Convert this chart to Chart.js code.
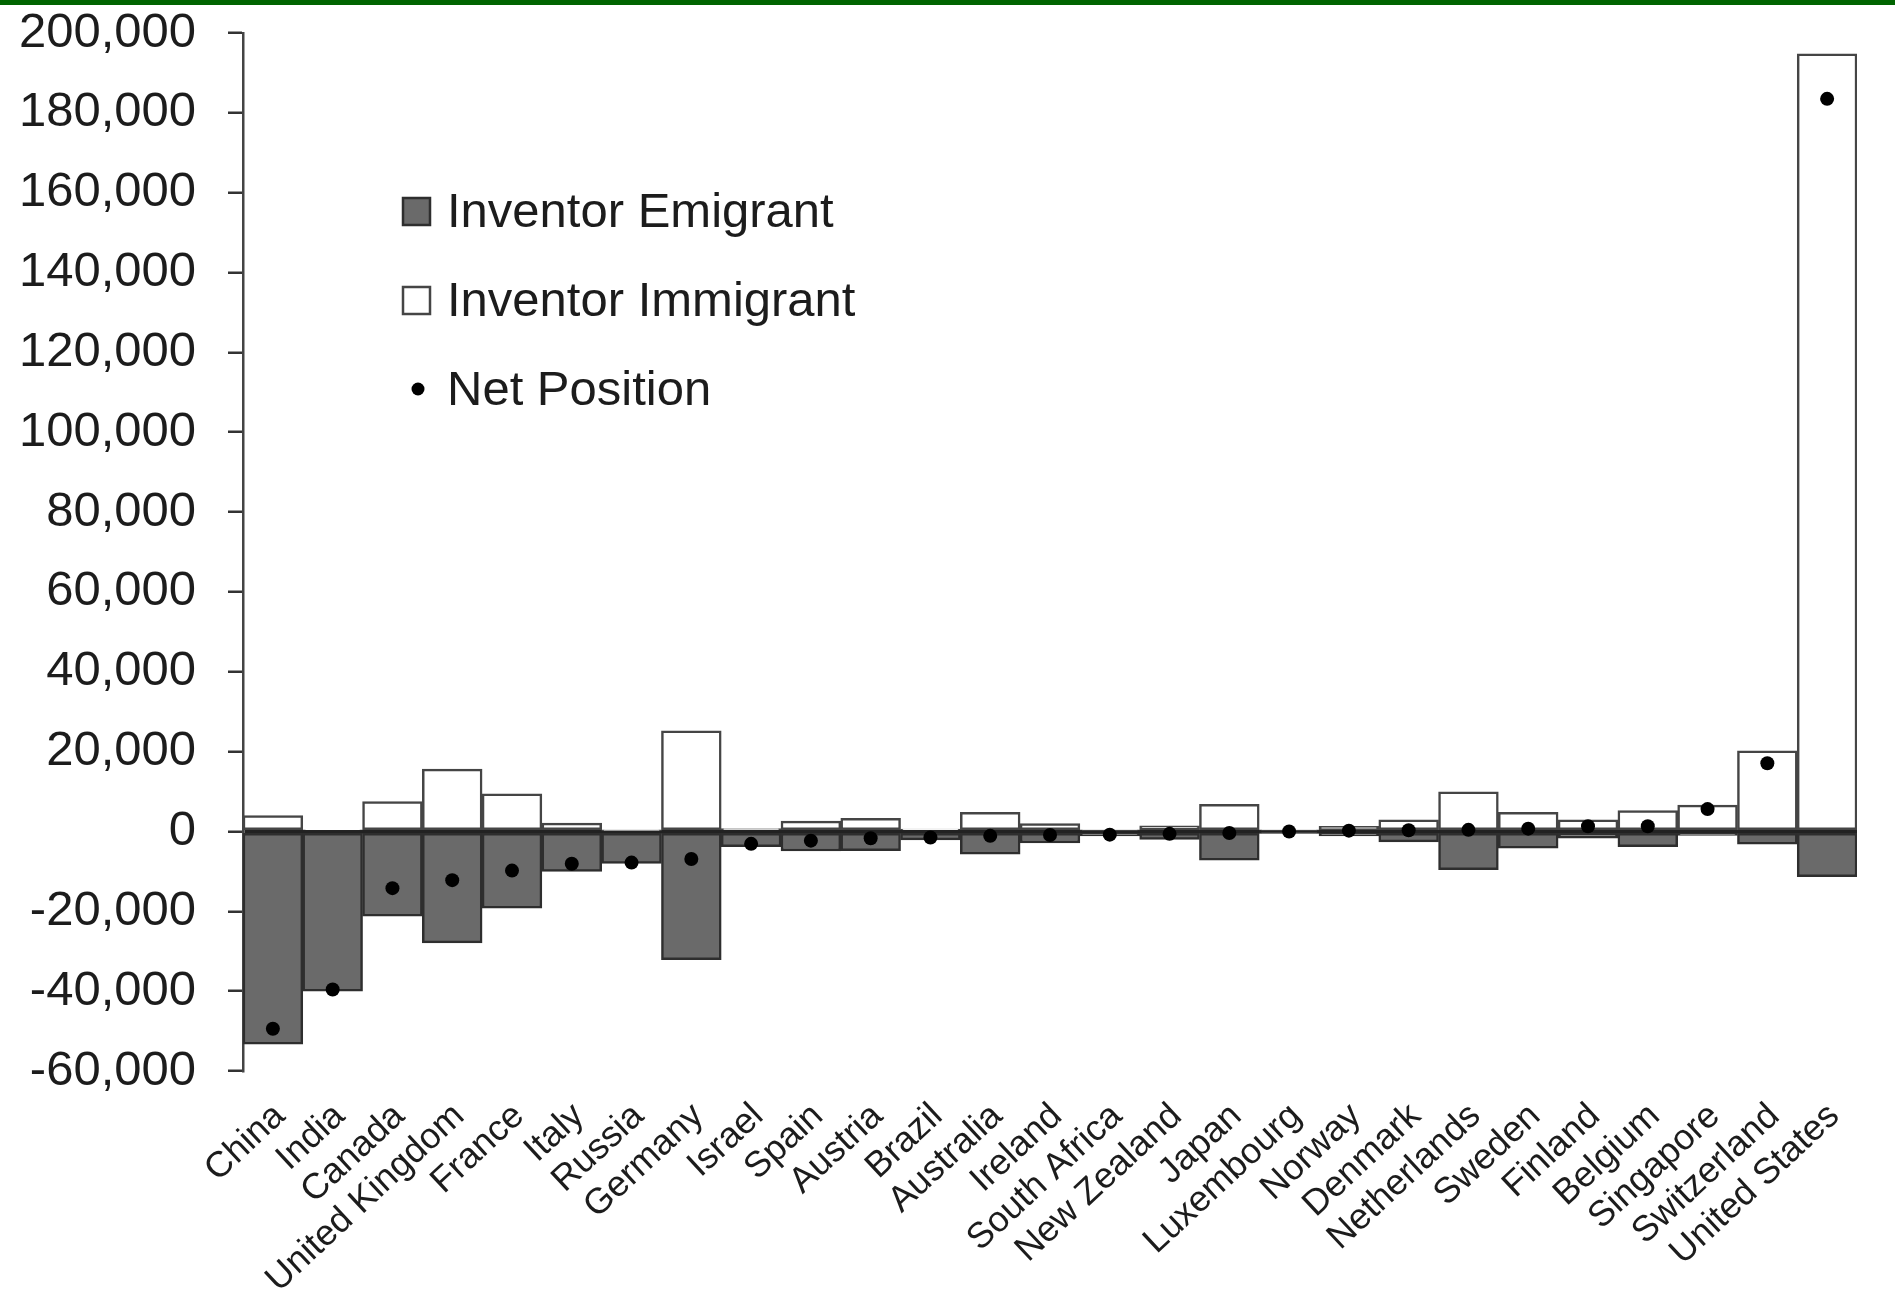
<!DOCTYPE html>
<html>
<head>
<meta charset="utf-8">
<script src="https://cdn.jsdelivr.net/npm/chart.js@4"></script>
<style>
  html, body { margin: 0; padding: 0; background: #fff; }
  #topBar { position: absolute; left: 0; top: 0; width: 1895px; height: 5px; background: #006400; }
  canvas { display: block; }
</style>
</head>
<body>
<div id="topBar"></div>
<canvas id="chart" width="1895" height="1289"></canvas>
<script>
const categories = [
  "China", "India", "Canada", "United Kingdom", "France", "Italy", "Russia",
  "Germany", "Israel", "Spain", "Austria", "Brazil", "Australia", "Ireland",
  "South Africa", "New Zealand", "Japan", "Luxembourg", "Norway", "Denmark",
  "Netherlands", "Sweden", "Finland", "Belgium", "Singapore", "Switzerland",
  "United States"
];
const emigrant = [
  -53300, -40000, -21200, -27900, -19200, -10000, -8000,
  -32100, -3800, -4900, -4800, -2100, -5700, -2900,
  -1100, -2000, -7200, -300, -1100, -2600,
  -9600, -4200, -1700, -3800, -1000, -3200,
  -11300
];
const immigrant = [
  4000, 400, 7500, 15600, 9400, 2100, 200,
  25200, 700, 2600, 3300, 600, 4800, 2000,
  300, 1400, 6800, 300, 1300, 2900,
  9900, 4800, 2900, 5200, 6600, 20200,
  194800
];
const netPosition = [
  -49400, -39600, -14200, -12200, -9800, -8100, -7800,
  -6900, -3100, -2300, -1700, -1500, -1100, -900,
  -800, -600, -400, 0, 200, 300,
  400, 700, 1300, 1300, 5600, 17100,
  183500
];

const FONT = '"Liberation Sans", Arial, sans-serif';
const TEXT = "#1c1c1c";

// legend sits inside the plot, so draw it ourselves
const insideLegend = {
  id: "insideLegend",
  afterDraw(chart) {
    const ctx = chart.ctx;
    const x = 403, y0 = 211, step = 89;
    ctx.save();
    ctx.font = "49px " + FONT;
    ctx.textBaseline = "middle";
    chart.data.datasets.forEach((ds, i) => {
      const y = y0 + i * step;
      if (ds.type === "line") {
        ctx.fillStyle = "#000";
        ctx.beginPath();
        ctx.arc(x + 15, y, 6.5, 0, Math.PI * 2);
        ctx.fill();
      } else {
        ctx.fillStyle = ds.backgroundColor;
        ctx.strokeStyle = ds.borderColor;
        ctx.lineWidth = 2.5;
        ctx.fillRect(x, y - 13, 27, 27);
        ctx.strokeRect(x, y - 13, 27, 27);
      }
      ctx.fillStyle = TEXT;
      ctx.fillText(ds.label, x + 44, y + 2);
    });
    ctx.restore();
  }
};

new Chart(document.getElementById("chart"), {
  type: "bar",
  data: {
    labels: categories,
    datasets: [
      {
        label: "Inventor Emigrant",
        data: emigrant,
        backgroundColor: "#6a6a6a",
        borderColor: "#2e2e2e",
        borderWidth: 2.5,
        borderSkipped: false,
        grouped: false,
        barPercentage: 1,
        categoryPercentage: 1,
        order: 2
      },
      {
        label: "Inventor Immigrant",
        data: immigrant,
        backgroundColor: "#ffffff",
        borderColor: "#454545",
        borderWidth: 2.5,
        borderSkipped: false,
        grouped: false,
        barPercentage: 1,
        categoryPercentage: 1,
        order: 1
      },
      {
        type: "line",
        label: "Net Position",
        data: netPosition,
        showLine: false,
        pointRadius: 7,
        pointHoverRadius: 7,
        pointBackgroundColor: "#000",
        pointBorderWidth: 0,
        order: 0
      }
    ]
  },
  options: {
    responsive: false,
    animation: false,
    devicePixelRatio: 1,
    layout: { padding: { left: 18, right: 38, top: 33, bottom: 0 } },
    plugins: {
      legend: { display: false },
      tooltip: { enabled: false }
    },
    scales: {
      x: {
        grid: { display: false, drawTicks: false },
        border: { display: false },
        ticks: {
          font: { family: FONT, size: 36 },
          color: TEXT,
          minRotation: 43,
          maxRotation: 43,
          autoSkip: false,
          padding: 24,
          labelOffset: 7
        },
        afterFit(scale) {
          scale.height = 218;
          scale.paddingLeft = 0;
          scale.paddingRight = 0;
        }
      },
      y: {
        min: -60000,
        max: 200000,
        z: 1,
        ticks: {
          stepSize: 20000,
          font: { family: FONT, size: 49 },
          color: TEXT,
          padding: 32,
          callback: (v) => v.toLocaleString("en-US")
        },
        grid: {
          color: (c) => (c.tick && c.tick.value === 0 ? "#222" : "rgba(0,0,0,0)"),
          lineWidth: 3.5,
          tickColor: "#333",
          tickLength: 15,
          tickWidth: 2.5
        },
        border: { color: "#444", width: 2.5 },
        afterFit(scale) {
          scale.width = 225;
          scale.paddingTop = 0;
          scale.paddingBottom = 0;
        }
      }
    }
  },
  plugins: [insideLegend]
});
</script>
</body>
</html>
